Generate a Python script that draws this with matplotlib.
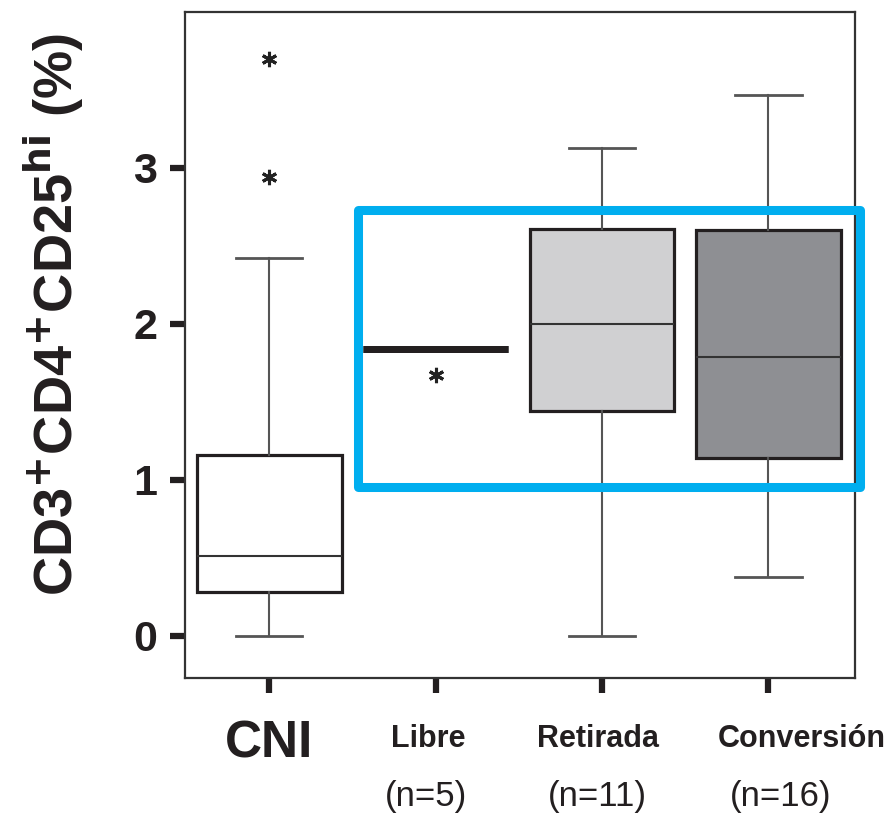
import matplotlib.pyplot as plt
from matplotlib.patches import Rectangle

# group labels and box statistics (CD3+CD4+CD25hi, %)
groups = ["CNI", "Libre", "Retirada", "Conversión"]
counts = ["", "(n=5)", "(n=11)", "(n=16)"]
medians = [0.51, 1.84, 2.00, 1.79]
q1 = [0.28, 1.84, 1.44, 1.14]
q3 = [1.16, 1.84, 2.61, 2.60]
whis_lo = [0.00, 1.84, 0.00, 0.38]
whis_hi = [2.42, 1.84, 3.13, 3.47]
outliers = [[2.94, 3.70], [1.67], [], []]
fills = ["white", "white", "#d0d0d2", "#8e8f93"]

plt.rcParams['font.family'] = ['Liberation Sans', 'DejaVu Sans']

fig = plt.figure(figsize=(8.96, 8.17), dpi=100)
ax = fig.add_axes([0.2065, 0.1701, 0.7478, 0.8152])

stats = []
for i in range(len(groups)):
    stats.append(dict(med=medians[i], q1=q1[i], q3=q3[i],
                      whislo=whis_lo[i], whishi=whis_hi[i], fliers=outliers[i]))

pos = list(range(len(groups)))
bp = ax.bxp(stats, positions=pos, widths=0.87, capwidths=0.4, patch_artist=True,
            boxprops=dict(linewidth=2.3, edgecolor="#231f20"),
            whiskerprops=dict(linewidth=1.5, color="#555555"),
            capprops=dict(linewidth=2.0, color="#555555"),
            medianprops=dict(linewidth=1.5, color="#333333"),
            flierprops=dict(marker=(6, 2, 0), markersize=11, markeredgewidth=2.2,
                            markeredgecolor="#222222", linestyle="none"))
for box, c in zip(bp["boxes"], fills):
    box.set_facecolor(c)
# the Libre group collapses to a single thick bar
bp["boxes"][1].set_linewidth(5)
bp["medians"][1].set_linewidth(5)
bp["medians"][1].set_color("#231f20")

ax.set_xlim(-0.505, 3.52)
ax.set_ylim(-0.27, 4.0)
ax.set_yticks([0, 1, 2, 3])
ax.set_yticklabels(["0", "1", "2", "3"], fontsize=31, fontweight="bold", color="#231f20")
ax.set_xticks(pos)
ax.set_xticklabels([])
ax.tick_params(axis="both", direction="out", width=4.5, length=11, color="#231f20")
ax.tick_params(axis="y", pad=9)
for s in ax.spines.values():
    s.set_linewidth(1.6)
    s.set_color("#333333")

ax.set_ylabel(r"CD3$^{\mathbf{+}}$CD4$^{\mathbf{+}}$CD25$^{\mathbf{hi}}$ (%)",
              fontsize=39, fontweight="bold", color="#231f20")
ax.yaxis.set_label_coords(-0.15, 0.545)

# category names under the axis
xt = ax.get_xaxis_transform()
ax.text(0, -0.062, groups[0], transform=xt, ha="center", va="top",
        fontsize=37, fontweight="bold", color="#231f20")
offsets = [0, -0.042, -0.024, 0.2]
for i in range(1, len(groups)):
    ax.text(pos[i] + offsets[i], -0.069, groups[i], transform=xt,
            ha="center", va="top", fontsize=22, fontweight="bold", color="#231f20")
n_offsets = [0, -0.06, -0.03, 0.07]
for i in range(1, len(groups)):
    ax.text(pos[i] + n_offsets[i], -0.153, counts[i], transform=xt,
            ha="center", va="top", fontsize=25, color="#231f20")

# highlight frame around the three treatment groups
ax.add_patch(Rectangle((0.535, 0.955), 3.55 - 0.535, 2.73 - 0.955, fill=False,
                       edgecolor="#00aeef", linewidth=6.5, joinstyle="round",
                       clip_on=False, zorder=10))

fig.savefig("out.png", dpi=100)
